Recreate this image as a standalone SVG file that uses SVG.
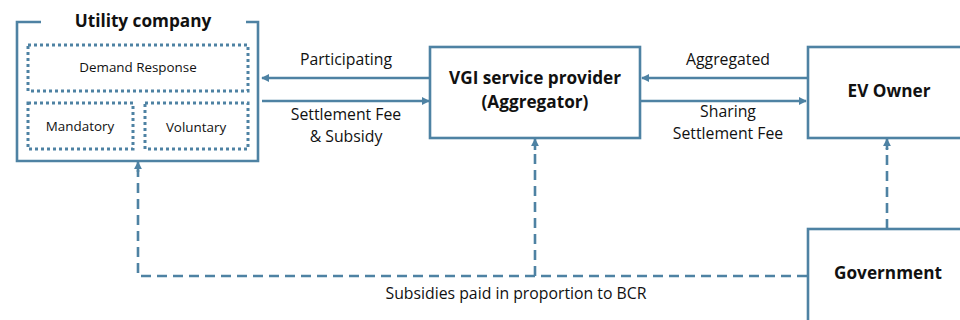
<svg xmlns="http://www.w3.org/2000/svg" width="960" height="320" viewBox="0 0 960 320">
<defs>
<marker id="ah" viewBox="0 0 10 10" refX="9" refY="5" markerWidth="3.2" markerHeight="3.2" orient="auto" markerUnits="strokeWidth">
<path d="M0,0 L10,5 L0,10 z" fill="#4e82a3"/>
</marker>
<style>
.box{fill:#fff;stroke:#4e82a3;stroke-width:2.6}
.dot{fill:none;stroke:#4e82a3;stroke-width:3;stroke-dasharray:3 3}
.ln{fill:none;stroke:#4e82a3;stroke-width:2.6;marker-end:url(#ah)}
.dash{fill:none;stroke:#4e82a3;stroke-width:2.6;stroke-dasharray:10 6}
.t{font-family:"Open Sans","Liberation Sans",sans-serif;fill:#111;text-anchor:middle}
.b{font-weight:bold;font-size:17.2px}
.m{font-size:15.8px}
.s{font-size:13.4px}
</style>
</defs>
<rect width="960" height="320" fill="#fff"/>
<g id="connectors">
<line class="ln" x1="430" y1="78" x2="262" y2="78"/>
<line class="ln" x1="262" y1="101" x2="429" y2="101"/>
<line class="ln" x1="807" y1="78" x2="642" y2="78"/>
<line class="ln" x1="641" y1="101" x2="806" y2="101"/>
<path class="dash" d="M807,276 H138 V170"/>
<line class="ln" x1="138" y1="172" x2="138" y2="162" style="stroke-dasharray:none"/>
<path class="dash" d="M535,276 V148"/>
<line class="ln" x1="535" y1="150" x2="535" y2="139" style="stroke-dasharray:none"/>
<path class="dash" d="M887,229 V148"/>
<line class="ln" x1="887" y1="150" x2="887" y2="139" style="stroke-dasharray:none"/>
<text class="t m" x="346" y="65">Participating</text>
<text class="t m" x="346" y="120">Settlement Fee</text>
<text class="t m" x="346" y="142">&amp; Subsidy</text>
<text class="t m" x="728" y="65">Aggregated</text>
<text class="t m" x="728" y="117">Sharing</text>
<text class="t m" x="728" y="139">Settlement Fee</text>
<text class="t m" x="516" y="299">Subsidies paid in proportion to BCR</text>
</g>
<g id="utility">
<path d="M41,22 H17 V161 H258 V22 H246" fill="#fff" stroke="#4e82a3" stroke-width="2.6"/>
<text class="t b" x="143" y="27">Utility company</text>
<g id="demand-response">
<rect class="dot" x="28" y="45" width="220" height="46"/>
<text class="t s" x="138" y="72">Demand Response</text>
</g>
<g id="mandatory">
<rect class="dot" x="28" y="103" width="105" height="46"/>
<text class="t s" x="80" y="131">Mandatory</text>
</g>
<g id="voluntary">
<rect class="dot" x="145" y="103" width="103" height="46"/>
<text class="t s" x="196" y="132">Voluntary</text>
</g>
</g>
<g id="vgi">
<rect class="box" x="430" y="47" width="210" height="91"/>
<text class="t b" x="535" y="84">VGI service provider</text>
<text class="t b" x="535" y="108">(Aggregator)</text>
</g>
<g id="ev-owner">
<rect class="box" x="808" y="47" width="160" height="91"/>
<text class="t b" x="889" y="97">EV Owner</text>
</g>
<g id="government">
<rect class="box" x="808" y="229" width="160" height="100"/>
<text class="t b" x="888" y="279">Government</text>
</g>
</svg>
